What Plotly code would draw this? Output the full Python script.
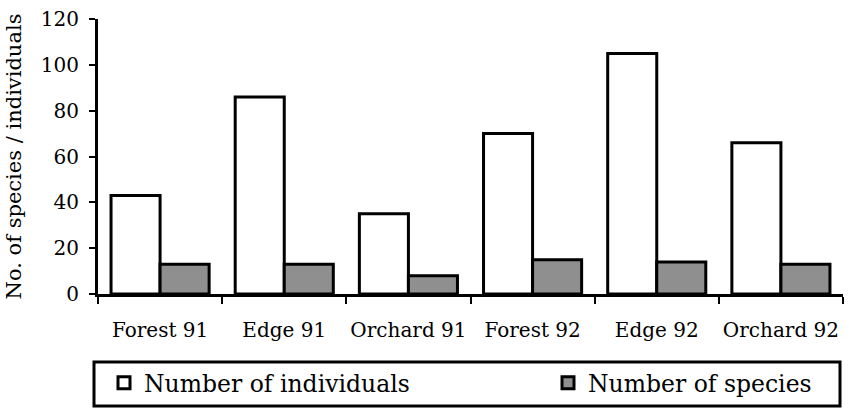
import plotly.graph_objects as go

categories = ["Forest 91", "Edge 91", "Orchard 91", "Forest 92", "Edge 92", "Orchard 92"]
individuals = [43, 86, 35, 70, 105, 66]
species = [13, 13, 8, 15, 14, 13]
y_ticks = [0, 20, 40, 60, 80, 100, 120]

FONT = "DejaVu Serif"

fig = go.Figure()
fig.add_trace(go.Bar(
    x=categories, y=individuals, name="Number of individuals",
    marker=dict(color="white", line=dict(color="black", width=3)),
    legend="legend",
))
fig.add_trace(go.Bar(
    x=categories, y=species, name="Number of species",
    marker=dict(color="#8f8f8f", line=dict(color="black", width=3)),
    legend="legend2",
))

W, H = 849, 408
L, R, T, B = 98, 6, 19, 114
pw = W - L - R
ph = H - T - B

leg_common = dict(
    orientation="h",
    xref="container", yref="container",
    xanchor="left", yanchor="middle",
    itemwidth=30, borderwidth=0,
    bgcolor="rgba(0,0,0,0)",
    font=dict(family=FONT, size=23.5, color="black"),
)

fig.update_layout(
    width=W, height=H,
    margin=dict(l=L, r=R, t=T, b=B, autoexpand=False),
    paper_bgcolor="white", plot_bgcolor="white",
    barmode="group", bargap=0.21, bargroupgap=0,
    font=dict(family=FONT, size=20, color="black"),
    showlegend=True,
    legend=dict(x=104 / W, y=1 - 383 / H, **leg_common),
    legend2=dict(x=548 / W, y=1 - 383 / H, **leg_common),
    xaxis=dict(
        type="category", automargin=False,
        showline=True, linecolor="black", linewidth=3,
        ticks="outside", tickson="boundaries", ticklen=7, tickwidth=2, tickcolor="black",
        showgrid=False, zeroline=False,
        tickfont=dict(family=FONT, size=20), tickangle=0,
        ticklabelstandoff=16,
    ),
    yaxis=dict(
        range=[0, 120], tickvals=y_ticks, automargin=False,
        showline=True, linecolor="black", linewidth=3,
        ticks="outside", ticklen=6, tickwidth=2, tickcolor="black",
        showgrid=False, zeroline=False,
        tickfont=dict(family=FONT, size=20),
        ticklabelstandoff=6,
        title=dict(text="No. of species / individuals", font=dict(family=FONT, size=21), standoff=14),
    ),
    shapes=[dict(
        type="rect", xref="paper", yref="paper",
        x0=(94 - L) / pw, x1=(840 - L) / pw,
        y0=(H - B - 406) / ph, y1=(H - B - 362) / ph,
        line=dict(color="black", width=3), fillcolor="rgba(0,0,0,0)",
    )],
)

fig.write_html("out.html", config={"displayModeBar": False},
               post_script="document.body.style.margin='0';")
